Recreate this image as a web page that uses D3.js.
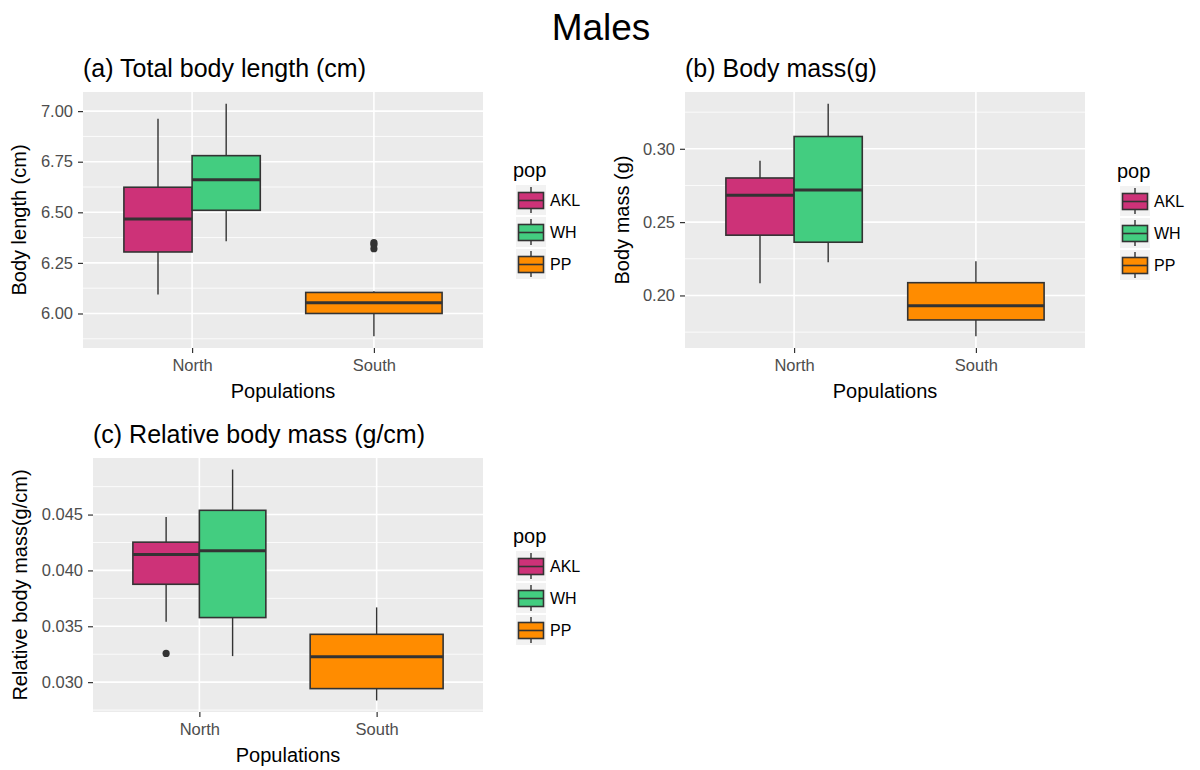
<!DOCTYPE html>
<html>
<head>
<meta charset="utf-8">
<script src="https://cdn.jsdelivr.net/npm/d3@7/dist/d3.min.js"></script>
<style>
  html, body { margin: 0; padding: 0; background: #fff; }
  svg { display: block; }
  text { font-family: "Liberation Sans", Arial, Helvetica, sans-serif; }
</style>
</head>
<body>
<svg id="chart" width="1200" height="770"></svg>
<script>
// ---------- DATA ----------
const groups = ["AKL", "WH", "PP"];
const regions = ["North", "South"];
const groupRegion = ["North", "North", "South"];
const groupColors = ["#CD3278", "#43CD80", "#FF8C00"];

// box stats per group: [lower whisker, Q1, median, Q3, upper whisker]
const lengthStats = [
  [6.094, 6.304, 6.467, 6.624, 6.962],
  [6.357, 6.510, 6.661, 6.780, 7.037],
  [5.887, 6.000, 6.053, 6.104, 6.110]
];
const lengthOutliers = [[], [], [6.350, 6.340, 6.320]];
const lengthTicks = [6.00, 6.25, 6.50, 6.75, 7.00];

const massStats = [
  [0.2084, 0.2411, 0.2683, 0.2801, 0.2918],
  [0.2226, 0.2363, 0.2719, 0.3084, 0.3308],
  [0.1721, 0.1833, 0.1929, 0.2087, 0.2233]
];
const massOutliers = [[], [], []];
const massTicks = [0.20, 0.25, 0.30];

const relStats = [
  [0.03540, 0.03876, 0.04142, 0.04253, 0.04479],
  [0.03233, 0.03578, 0.04175, 0.04538, 0.04903],
  [0.02836, 0.02942, 0.03227, 0.03428, 0.03669]
];
const relOutliers = [[0.03257], [], []];
const relTicks = [0.030, 0.035, 0.040, 0.045];

// ---------- DRAW ----------
const svg = d3.select("#chart");

svg.append("text")
  .attr("x", 601).attr("y", 40)
  .attr("text-anchor", "middle")
  .attr("font-size", 37)
  .attr("fill", "#000")
  .text("Males");

function drawPanel(cfg) {
  const { x0, x1, y0, y1, stats, outliers, ticks, digits, title, ytitle, ytitleX, legendX, legendY } = cfg;
  const g = svg.append("g");

  // y domain: data range with 5% expansion
  const all = stats.flat().concat(outliers.flat());
  const lo = d3.min(all), hi = d3.max(all);
  const pad = (hi - lo) * 0.05;
  const y = d3.scaleLinear().domain([lo - pad, hi + pad]).range([y1, y0]);
  const x = d3.scalePoint().domain(regions).range([x0, x1]).padding(0.6);
  const step = x.step();

  // panel background
  g.append("rect").attr("x", x0).attr("y", y0).attr("width", x1 - x0).attr("height", y1 - y0)
    .attr("fill", "#EBEBEB");

  // minor grid
  const tstep = ticks[1] - ticks[0];
  const minor = [];
  for (let i = -1; i < ticks.length; i++) {
    const v = ticks[0] + tstep * (i + 0.5);
    const d = y.domain();
    if (v > d[0] && v < d[1]) minor.push(v);
  }
  g.selectAll(".minor").data(minor).enter().append("line")
    .attr("x1", x0).attr("x2", x1)
    .attr("y1", d => y(d)).attr("y2", d => y(d))
    .attr("stroke", "#fff").attr("stroke-width", 0.8);
  // major grid
  g.selectAll(".major").data(ticks).enter().append("line")
    .attr("x1", x0).attr("x2", x1)
    .attr("y1", d => y(d)).attr("y2", d => y(d))
    .attr("stroke", "#fff").attr("stroke-width", 1.6);
  g.selectAll(".vmajor").data(regions).enter().append("line")
    .attr("x1", d => x(d)).attr("x2", d => x(d))
    .attr("y1", y0).attr("y2", y1)
    .attr("stroke", "#fff").attr("stroke-width", 1.6);

  // boxes
  groups.forEach((grp, i) => {
    const reg = groupRegion[i];
    const inReg = groups.filter((_, j) => groupRegion[j] === reg);
    const k = inReg.indexOf(grp);
    const n = inReg.length;
    const totalW = 0.75 * step;
    const w = totalW / n;
    const left = x(reg) - totalW / 2 + k * w;
    const cx = left + w / 2;
    const s = stats[i];
    const bg = g.append("g");
    bg.append("line").attr("x1", cx).attr("x2", cx).attr("y1", y(s[4])).attr("y2", y(s[3]))
      .attr("stroke", "#333").attr("stroke-width", 1.4);
    bg.append("line").attr("x1", cx).attr("x2", cx).attr("y1", y(s[1])).attr("y2", y(s[0]))
      .attr("stroke", "#333").attr("stroke-width", 1.4);
    bg.append("rect").attr("x", left).attr("y", y(s[3]))
      .attr("width", w).attr("height", y(s[1]) - y(s[3]))
      .attr("fill", groupColors[i]).attr("stroke", "#333").attr("stroke-width", 1.6);
    bg.append("line").attr("x1", left).attr("x2", left + w).attr("y1", y(s[2])).attr("y2", y(s[2]))
      .attr("stroke", "#333").attr("stroke-width", 3);
    bg.selectAll("circle").data(outliers[i]).enter().append("circle")
      .attr("cx", cx).attr("cy", d => y(d)).attr("r", 3.6).attr("fill", "#333");
  });

  // axes
  const ya = g.append("g").attr("transform", `translate(${x0},0)`)
    .call(d3.axisLeft(y).tickValues(ticks).tickSize(5).tickPadding(5).tickFormat(d3.format("." + digits + "f")));
  ya.select(".domain").remove();
  ya.selectAll(".tick line").attr("stroke", "#333").attr("stroke-width", 1.2);
  ya.selectAll(".tick text").attr("fill", "#4D4D4D").attr("font-size", 16.5)
    .attr("font-family", '"Liberation Sans", Arial, sans-serif');

  const xa = g.append("g").attr("transform", `translate(0,${y1})`)
    .call(d3.axisBottom(x).tickSize(5).tickPadding(6));
  xa.select(".domain").remove();
  xa.selectAll(".tick line").attr("stroke", "#333").attr("stroke-width", 1.2);
  xa.selectAll(".tick text").attr("fill", "#4D4D4D").attr("font-size", 16.5)
    .attr("font-family", '"Liberation Sans", Arial, sans-serif');

  // titles
  g.append("text").attr("x", x0).attr("y", y0 - 15)
    .attr("font-size", 25).attr("fill", "#000").text(title);
  g.append("text").attr("x", (x0 + x1) / 2).attr("y", y1 + 50)
    .attr("text-anchor", "middle").attr("font-size", 20).attr("fill", "#000").text("Populations");
  g.append("text")
    .attr("transform", `translate(${ytitleX},${(y0 + y1) / 2}) rotate(-90)`)
    .attr("text-anchor", "middle").attr("font-size", 20).attr("fill", "#000").text(ytitle);

  // legend
  const lg = g.append("g").attr("transform", `translate(${legendX},${legendY})`);
  lg.append("text").attr("x", -3).attr("y", -8).attr("font-size", 20).attr("fill", "#000").text("pop");
  groups.forEach((grp, i) => {
    const ry = i * 32;
    const row = lg.append("g").attr("transform", `translate(0,${ry})`);
    row.append("rect").attr("x", 0).attr("y", 0).attr("width", 30).attr("height", 30).attr("fill", "#F2F2F2");
    row.append("line").attr("x1", 15).attr("x2", 15).attr("y1", 2).attr("y2", 28)
      .attr("stroke", "#333").attr("stroke-width", 1.4);
    row.append("rect").attr("x", 2.5).attr("y", 7.5).attr("width", 25).attr("height", 16)
      .attr("fill", groupColors[i]).attr("stroke", "#333").attr("stroke-width", 1.6);
    row.append("line").attr("x1", 2.5).attr("x2", 27.5).attr("y1", 15.5).attr("y2", 15.5)
      .attr("stroke", "#333").attr("stroke-width", 1.6);
    row.append("text").attr("x", 34).attr("y", 15).attr("dy", "0.35em")
      .attr("font-size", 16).attr("fill", "#000").text(grp);
  });
}

drawPanel({
  x0: 83, x1: 483, y0: 92, y1: 348,
  stats: lengthStats, outliers: lengthOutliers, ticks: lengthTicks, digits: 2,
  title: "(a) Total body length (cm)", ytitle: "Body length (cm)", ytitleX: 26,
  legendX: 516, legendY: 185
});
drawPanel({
  x0: 685, x1: 1085, y0: 92, y1: 348,
  stats: massStats, outliers: massOutliers, ticks: massTicks, digits: 2,
  title: "(b) Body mass(g)", ytitle: "Body mass (g)", ytitleX: 629,
  legendX: 1120, legendY: 186
});
drawPanel({
  x0: 93, x1: 483, y0: 458, y1: 712,
  stats: relStats, outliers: relOutliers, ticks: relTicks, digits: 3,
  title: "(c) Relative body mass (g/cm)", ytitle: "Relative body mass(g/cm)", ytitleX: 27,
  legendX: 516, legendY: 551
});
</script>
</body>
</html>
